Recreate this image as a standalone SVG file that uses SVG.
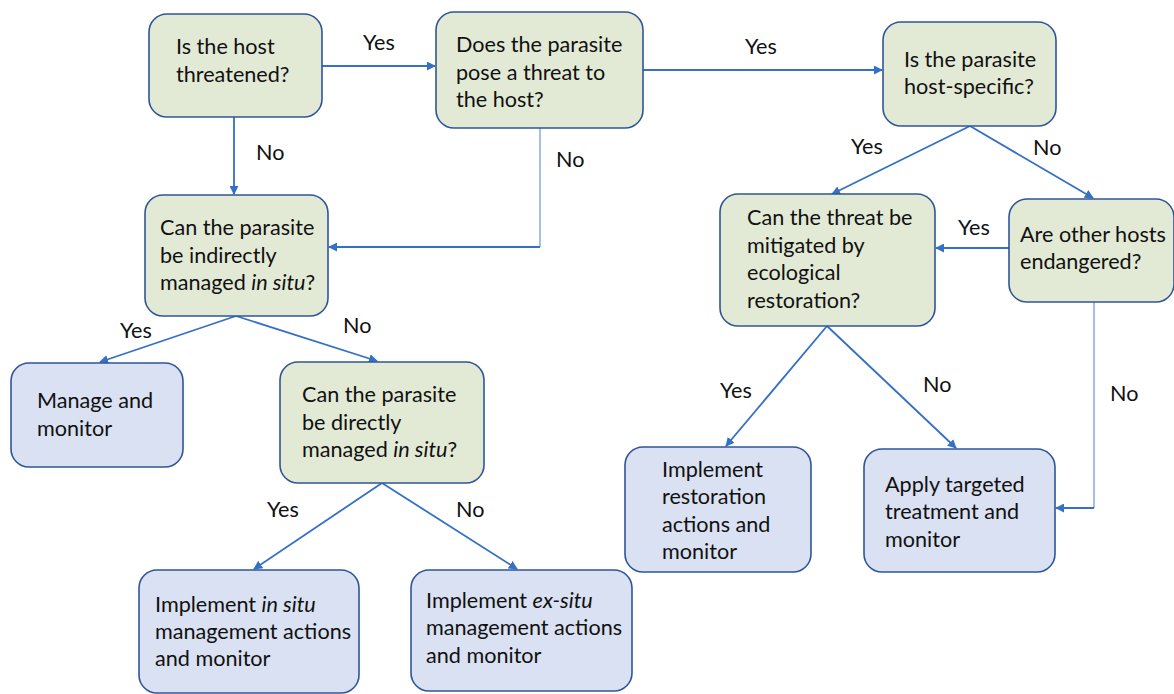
<svg xmlns="http://www.w3.org/2000/svg" width="1174" height="694" viewBox="0 0 1174 694">
<style>
.q{fill:#E2EAD6;stroke:#2F5597;stroke-width:1.6}
.a{fill:#D9E1F2;stroke:#2F5597;stroke-width:1.6}
text{font-family:Lato,"Liberation Sans",sans-serif;font-size:21.6px;fill:#111}
.c{fill:none;stroke:#3370C6;stroke-width:1.8;marker-end:url(#ah)}
.t{fill:none;stroke:#7FA3E3;stroke-width:1.4}
.i{font-style:italic}
</style>
<defs>
<marker id="ah" viewBox="0 0 10 10" refX="9" refY="5" markerWidth="5" markerHeight="5" orient="auto" markerUnits="strokeWidth">
<path d="M0,0 L10,5 L0,10 z" fill="#3370C6"/>
</marker>
</defs>
<rect width="1174" height="694" fill="#fff"/>
<g id="connectors">
<line class="c" x1="322" y1="66" x2="435" y2="66"/>
<line class="c" x1="643" y1="70" x2="882" y2="70"/>
<line class="c" x1="234" y1="117" x2="234" y2="194"/>
<polyline class="t" points="540,128 540,247"/>
<polyline class="c" points="540,247 329,247"/>
<line class="c" x1="970" y1="126" x2="832" y2="194"/>
<line class="c" x1="970" y1="126" x2="1093" y2="198"/>
<line class="c" x1="1009" y1="248" x2="936" y2="248"/>
<polyline class="t" points="1094,302 1094,508"/>
<polyline class="c" points="1094,508 1056,508"/>
<line class="c" x1="827" y1="326" x2="726" y2="446"/>
<line class="c" x1="827" y1="326" x2="956" y2="448"/>
<line class="c" x1="236" y1="316" x2="100" y2="362"/>
<line class="c" x1="236" y1="316" x2="377" y2="361"/>
<line class="c" x1="382" y1="483" x2="254" y2="569"/>
<line class="c" x1="382" y1="483" x2="517" y2="569"/>
<text x="363" y="50">Yes</text>
<text x="745" y="54">Yes</text>
<text x="256" y="160">No</text>
<text x="556" y="167">No</text>
<text x="851" y="154">Yes</text>
<text x="1033" y="155">No</text>
<text x="958" y="235">Yes</text>
<text x="1110" y="401">No</text>
<text x="720" y="398">Yes</text>
<text x="923" y="392">No</text>
<text x="120" y="338">Yes</text>
<text x="343" y="333">No</text>
<text x="267" y="517">Yes</text>
<text x="456" y="517">No</text>
</g>
<g id="n1">
<rect class="q" x="149" y="14" width="173" height="103" rx="18"/>
<text x="176" y="54">Is the host</text>
<text x="176" y="82">threatened?</text>
</g>
<g id="n2">
<rect class="q" x="436" y="12" width="207" height="116" rx="18"/>
<text x="456" y="52">Does the parasite</text>
<text x="456" y="80">pose a threat to</text>
<text x="456" y="107">the host?</text>
</g>
<g id="n3">
<rect class="q" x="883" y="22" width="173" height="104" rx="18"/>
<text x="904" y="67">Is the parasite</text>
<text x="904" y="94">host-specific?</text>
</g>
<g id="n4">
<rect class="q" x="145" y="195" width="183" height="121" rx="18"/>
<text x="160" y="235">Can the parasite</text>
<text x="160" y="263">be indirectly</text>
<text x="160" y="290">managed <tspan class="i">in situ</tspan>?</text>
</g>
<g id="n5">
<rect class="a" x="11" y="363" width="172" height="104" rx="18"/>
<text x="37" y="408">Manage and</text>
<text x="37" y="436">monitor</text>
</g>
<g id="n6">
<rect class="q" x="280" y="362" width="204" height="121" rx="18"/>
<text x="302" y="402">Can the parasite</text>
<text x="302" y="430">be directly</text>
<text x="302" y="457">managed <tspan class="i">in situ</tspan>?</text>
</g>
<g id="n7">
<rect class="a" x="139" y="570" width="220" height="123" rx="18"/>
<text x="155" y="612">Implement <tspan class="i">in situ</tspan></text>
<text x="155" y="639">management actions</text>
<text x="155" y="666">and monitor</text>
</g>
<g id="n8">
<rect class="a" x="411" y="570" width="221" height="121" rx="18"/>
<text x="426" y="608">Implement <tspan class="i">ex-situ</tspan></text>
<text x="426" y="635">management actions</text>
<text x="426" y="663">and monitor</text>
</g>
<g id="n9">
<rect class="q" x="720" y="194" width="215" height="132" rx="18"/>
<text x="747" y="225">Can the threat be</text>
<text x="747" y="253">mitigated by</text>
<text x="747" y="280">ecological</text>
<text x="747" y="308">restoration?</text>
</g>
<g id="n10">
<rect class="q" x="1009" y="199" width="165" height="103" rx="18"/>
<text x="1020" y="242">Are other hosts</text>
<text x="1020" y="269">endangered?</text>
</g>
<g id="n11">
<rect class="a" x="625" y="447" width="186" height="125" rx="18"/>
<text x="662" y="477">Implement</text>
<text x="662" y="504">restoration</text>
<text x="662" y="532">actions and</text>
<text x="662" y="559">monitor</text>
</g>
<g id="n12">
<rect class="a" x="864" y="449" width="191" height="123" rx="18"/>
<text x="885" y="492">Apply targeted</text>
<text x="885" y="519">treatment and</text>
<text x="885" y="547">monitor</text>
</g>
</svg>
